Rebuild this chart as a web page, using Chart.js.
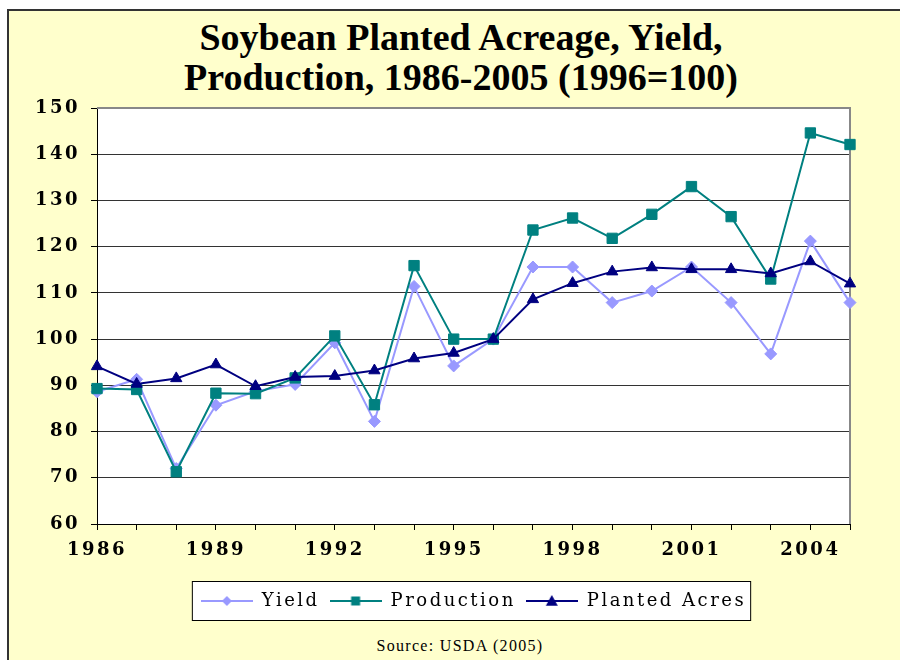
<!DOCTYPE html>
<html>
<head>
<meta charset="utf-8">
<script src="https://cdn.jsdelivr.net/npm/chart.js@4.4.1/dist/chart.umd.min.js"></script>
<style>
    body { margin: 0; background: #fff; }
    #page { position: relative; width: 900px; height: 660px; overflow: hidden; }
    #frame {
        position: absolute; left: 7px; top: 9px; width: 900px; height: 660px;
        background: #ffffcc; border-left: 2px solid #333; border-top: 2px solid #333;
    }
    #chart-title {
        position: absolute; left: 10px; width: 902px; top: 17px; text-align: center;
        font: bold 38px/40px "Liberation Serif", serif; color: #000;
    }
    #source {
        position: absolute; left: 0; width: 920px; top: 637px; text-align: center;
        font: 16px "Liberation Serif", serif; letter-spacing: 1.3px; color: #000;
    }
    #chart { position: absolute; left: 0; top: 0; }
</style>
</head>
<body>
<div id="page">
    <div id="frame"></div>
    <div id="chart-title">Soybean Planted Acreage, Yield,<br>Production, 1986-2005 (1996=100)</div>
    <div id="source">Source: USDA (2005)</div>
    <canvas id="chart" width="900" height="660"></canvas>
</div>
<script>
const YEARS = ['1986', '1987', '1988', '1989', '1990', '1991', '1992', '1993', '1994', '1995',
    '1996', '1997', '1998', '1999', '2000', '2001', '2002', '2003', '2004', '2005'];
const X_LABELS = ['1986', '1989', '1992', '1995', '1998', '2001', '2004'];
const Y_TICKS = [60, 70, 80, 90, 100, 110, 120, 130, 140, 150];

const YIELD = [88.6, 91.3, 72.0, 85.7, 88.7, 90.2, 99.2, 82.2, 111.4, 94.2,
    100, 115.6, 115.6, 107.9, 110.4, 115.6, 107.9, 96.8, 121.2, 107.9];
const PRODUCTION = [89.3, 89.1, 71.3, 88.3, 88.2, 91.6, 100.7, 85.8, 115.9, 100.0,
    100, 123.6, 126.2, 121.8, 127.0, 133.0, 126.5, 113.0, 144.6, 142.1];
const PLANTED = [94.1, 90.3, 91.5, 94.5, 89.8, 91.8, 92.0, 93.2, 95.8, 97.0,
    100, 108.6, 112.1, 114.6, 115.5, 115.1, 115.1, 114.2, 116.8, 112.0];

const YIELD_COLOR = '#9999ff';
const PRODUCTION_COLOR = '#008080';
const PLANTED_COLOR = '#000080';

const TICK_SPACING = '2.5px';
const LEGEND_SPACING = '2.5px';
const TICK_FONT = { family: '"DejaVu Serif", serif', size: 18, weight: 'bold' };
const LEGEND_FONT = { family: '"DejaVu Serif", serif', size: 18 };

// little line + marker picture for each legend entry
function makeIcon(color, style, r) {
    let c = document.createElement('canvas');
    c.width = 52;
    c.height = 18;
    let g = c.getContext('2d');
    g.strokeStyle = color;
    g.fillStyle = color;
    g.lineWidth = 2;
    g.beginPath();
    g.moveTo(0, 9);
    g.lineTo(52, 9);
    g.stroke();
    g.beginPath();
    if (style === 'rectRot') {
        g.moveTo(26, 9 - r); g.lineTo(26 + r, 9); g.lineTo(26, 9 + r); g.lineTo(26 - r, 9);
    } else if (style === 'rect') {
        g.rect(26 - r, 9 - r, 2 * r, 2 * r);
    } else {
        g.moveTo(26, 9 - r); g.lineTo(26 + r, 9 + r * 0.8); g.lineTo(26 - r, 9 + r * 0.8);
    }
    g.closePath();
    g.fill();
    return c;
}
const LEGEND_ICONS = [
    makeIcon(YIELD_COLOR, 'rectRot', 5),
    makeIcon(PRODUCTION_COLOR, 'rect', 4.5),
    makeIcon(PLANTED_COLOR, 'triangle', 6)
];

function spaceLegend(chart) {
    let lg = chart.legend;
    if (!lg || lg._spaced) return;
    lg._spaced = true;
    ['fit', 'draw'].forEach(fn => {
        let orig = lg[fn];
        lg[fn] = function () {
            let ctx = chart.ctx;
            let old = ctx.letterSpacing;
            ctx.letterSpacing = LEGEND_SPACING;
            let res = orig.apply(lg, arguments);
            ctx.letterSpacing = old;
            return res;
        };
    });
}

const framePlugin = {
    id: 'frame',
    beforeUpdate(chart) {
        spaceLegend(chart);
        chart.ctx.letterSpacing = TICK_SPACING;
    },
    beforeDraw(chart) {
        let ctx = chart.ctx;
        ctx.letterSpacing = TICK_SPACING;
        let a = chart.chartArea;
        ctx.save();
        ctx.fillStyle = '#fff';
        ctx.fillRect(a.left, a.top, a.right - a.left, a.bottom - a.top);

        let boxes = chart.legend.legendHitBoxes || [];
        if (boxes.length) {
            let l = Math.min(...boxes.map(b => b.left));
            let r = Math.max(...boxes.map(b => b.left + b.width));
            let t = Math.min(...boxes.map(b => b.top));
            let btm = Math.max(...boxes.map(b => b.top + b.height));
            ctx.fillStyle = '#fff';
            ctx.fillRect(l - 8, t - 10, r - l + 12, btm - t + 20);
            ctx.strokeStyle = '#000';
            ctx.lineWidth = 1;
            ctx.strokeRect(l - 8.5, t - 10.5, r - l + 13, btm - t + 21);
        }
        ctx.restore();
    },
    beforeDatasetsDraw(chart) {
        let ctx = chart.ctx;
        let a = chart.chartArea;
        ctx.save();
        ctx.strokeStyle = '#888';
        ctx.lineWidth = 2;
        ctx.beginPath();
        ctx.moveTo(a.left, a.top);
        ctx.lineTo(a.right, a.top);
        ctx.lineTo(a.right, a.bottom);
        ctx.stroke();
        ctx.restore();
    }
};

function lineSet(label, data, color, style, radius, order) {
    return {
        label: label,
        data: data,
        borderColor: color,
        backgroundColor: color,
        borderWidth: 2,
        pointStyle: style,
        pointRadius: radius,
        pointBorderWidth: 1,
        pointBackgroundColor: color,
        pointBorderColor: color,
        tension: 0,
        order: order
    };
}

new Chart(document.getElementById('chart'), {
    type: 'line',
    data: {
        labels: YEARS,
        datasets: [
            lineSet('Yield', YIELD, YIELD_COLOR, 'rectRot', 6, 3),
            lineSet('Production', PRODUCTION, PRODUCTION_COLOR, 'rect', 7.3, 2),
            lineSet('Planted Acres', PLANTED, PLANTED_COLOR, 'triangle', 6.5, 1)
        ]
    },
    options: {
        responsive: false,
        animation: false,
        layout: { padding: { left: 0, right: 50, top: 108, bottom: 40 } },
        plugins: {
            legend: {
                position: 'bottom',
                fullSize: false,
                labels: {
                    usePointStyle: true,
                    pointStyleWidth: 52,
                    padding: 10,
                    color: '#000',
                    font: LEGEND_FONT,
                    sort: (a, b) => a.datasetIndex - b.datasetIndex,
                    generateLabels(chart) {
                        let items = Chart.defaults.plugins.legend.labels.generateLabels(chart);
                        items.forEach(it => { it.pointStyle = LEGEND_ICONS[it.datasetIndex]; });
                        return items;
                    }
                }
            },
            tooltip: { enabled: false }
        },
        scales: {
            x: {
                offset: false,
                grid: { drawOnChartArea: false, tickLength: 6, color: '#000' },
                border: { color: '#000', width: 1 },
                ticks: {
                    autoSkip: false,
                    maxRotation: 0,
                    padding: 10,
                    color: '#000',
                    font: TICK_FONT,
                    callback: function (v, i) {
                        return X_LABELS.includes(YEARS[i]) ? YEARS[i] : '';
                    }
                },
                afterFit(s) { s.height = 58; }
            },
            y: {
                min: 60,
                max: 150,
                afterBuildTicks(s) { s.ticks = Y_TICKS.map(v => ({ value: v })); },
                grid: {
                    color: c => (c.tick && c.tick.value === 150) ? '#888' : '#333',
                    tickColor: '#000',
                    tickLength: 6
                },
                border: { color: '#000', width: 1 },
                ticks: { padding: 11, color: '#000', font: TICK_FONT },
                afterFit(s) { s.width = 97; }
            }
        }
    },
    plugins: [framePlugin]
});
</script>
</body>
</html>
